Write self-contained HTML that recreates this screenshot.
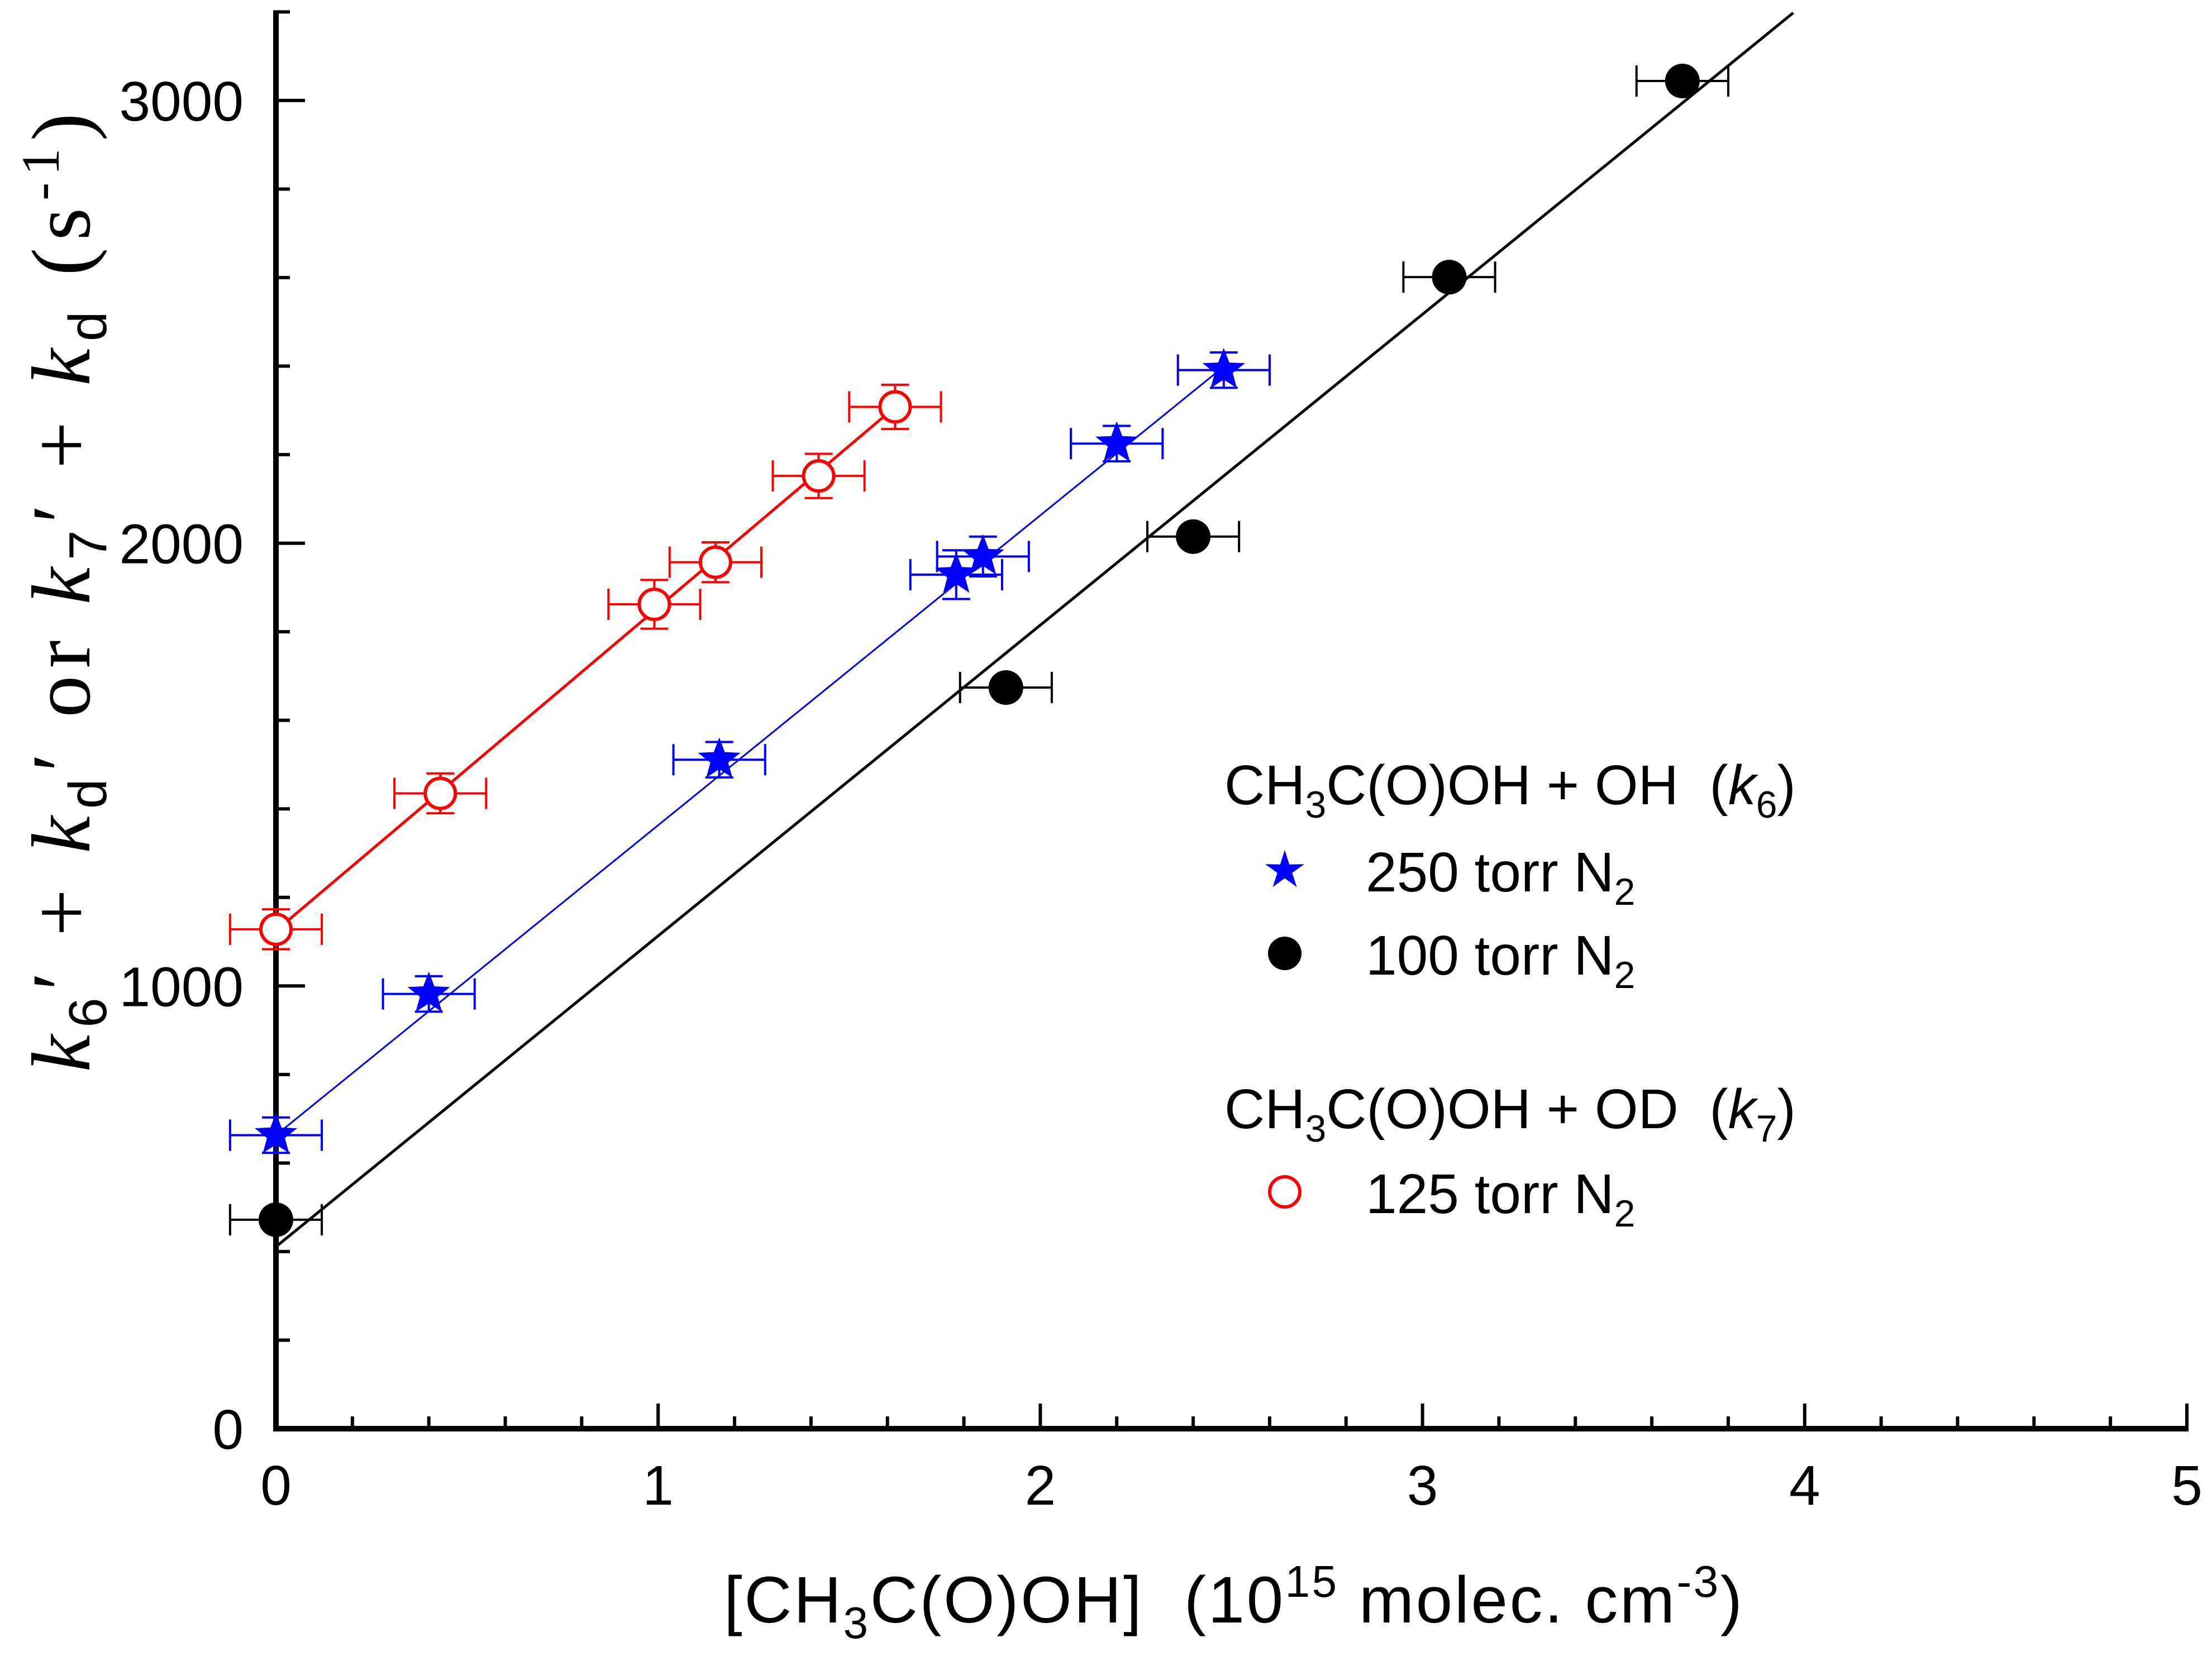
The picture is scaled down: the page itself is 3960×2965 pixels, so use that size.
<!DOCTYPE html>
<html><head><meta charset="utf-8"><style>
html,body{margin:0;padding:0;background:#fff;}
svg{display:block;font-family:"Liberation Sans",sans-serif;}
</style></head><body>
<svg id="chart" width="3960" height="2965" viewBox="0 0 3960 2965" xmlns="http://www.w3.org/2000/svg">
<g id="axes"></g>
<g id="series"></g>
<text x="1296" y="2905" font-size="118" textLength="1823" lengthAdjust="spacing" xml:space="preserve">[CH<tspan font-size="80" dy="28">3</tspan><tspan dy="-28">C(O)OH]  (10</tspan><tspan font-size="80" dy="-46">15</tspan><tspan dy="46"> molec. cm</tspan><tspan font-size="80" dy="-46">-3</tspan><tspan dy="46">)</tspan></text>
<text transform="translate(160,1061) rotate(-90)" font-size="150" text-anchor="middle" textLength="1717" lengthAdjust="spacing" font-family="Liberation Serif, serif" xml:space="preserve"><tspan font-style="italic">k</tspan><tspan font-size="96" dy="30" font-family="Liberation Sans, sans-serif">6</tspan><tspan dy="-30">′ + </tspan><tspan font-style="italic">k</tspan><tspan font-size="96" dy="30" font-family="Liberation Sans, sans-serif">d</tspan><tspan dy="-30">′ or </tspan><tspan font-style="italic">k</tspan><tspan font-size="96" dy="30" font-family="Liberation Sans, sans-serif">7</tspan><tspan dy="-30">′ + </tspan><tspan font-style="italic">k</tspan><tspan font-size="96" dy="30" font-family="Liberation Sans, sans-serif">d</tspan><tspan dy="-30"> (s</tspan><tspan font-size="96" dy="-55">-1</tspan><tspan dy="55">)</tspan></text>
<g font-size="100">
<text x="2192" y="1440" xml:space="preserve">CH<tspan font-size="68" dy="24">3</tspan><tspan dy="-24">C(O)OH + OH  (</tspan><tspan font-style="italic">k</tspan><tspan font-size="68" dy="24">6</tspan><tspan dy="-24">)</tspan></text>
<polygon fill="#0000ff" points="2300,1522 2308.2,1547.7 2335,1547.2 2313.2,1562.9 2321.6,1588.3 2300,1572.5 2278.4,1588.3 2286.8,1562.9 2265,1547.2 2291.8,1547.7"/>
<text x="2445" y="1596">250 torr N<tspan font-size="68" dy="24">2</tspan></text>
<circle cx="2300" cy="1707" r="30" fill="#000"/>
<text x="2445" y="1745">100 torr N<tspan font-size="68" dy="24">2</tspan></text>
<text x="2192" y="2020" xml:space="preserve">CH<tspan font-size="68" dy="24">3</tspan><tspan dy="-24">C(O)OH + OD  (</tspan><tspan font-style="italic">k</tspan><tspan font-size="68" dy="24">7</tspan><tspan dy="-24">)</tspan></text>
<circle cx="2300" cy="2134" r="27" fill="none" stroke="#ff0000" stroke-width="6"/>
<text x="2445" y="2172">125 torr N<tspan font-size="68" dy="24">2</tspan></text>
</g>
</svg>
<script>
const xTicks=[0,1,2,3,4,5];
const yTicks=[0,1000,2000,3000];
const blackX=[0,1.91,2.40,3.07,3.68];
const blackY=[472,1674,2015,2601,3044];
const blueX=[0,0.40,1.16,1.78,1.85,2.20,2.48];
const blueY=[663,982,1511,1929,1970,2225,2391];
const redX=[0,0.43,0.99,1.15,1.42,1.62];
const redY=[1128,1435,1862,1957,2152,2308];
const xErr=0.12;
const blueYErr=[40,40,40,55,45,40,40];
const redYErr=[45,45,55,45,50,50];
const blackFit=[411,702];
const blueFit=[663,700];
const redFit=[1125,730];
const blackFitXMax=3.97, blueFitXMax=2.48, redFitXMax=1.62;

const NS="http://www.w3.org/2000/svg";
const X0=494, XS=684.2, Y0=2558, YS=0.7927;
const sx=v=>X0+v*XS, sy=v=>Y0-v*YS;
function mk(tag,attrs,parent){const e=document.createElementNS(NS,tag);for(const k in attrs)e.setAttribute(k,attrs[k]);parent.appendChild(e);return e;}
const axes=document.getElementById('axes'), ser=document.getElementById('series');

let e=mk('line',{x1:X0,y1:Y0+5,x2:X0,y2:sy(3200)-3,stroke:'#000','stroke-width':10},axes);


e=mk('line',{x1:X0-5,y1:Y0,x2:sx(5)+3,y2:Y0,stroke:'#000','stroke-width':10},axes);


for(let v=0;v<=5.001;v+=0.2){const major=Math.abs(v-Math.round(v))<1e-6;
 const t=mk('line',{x1:sx(v),y1:Y0,x2:sx(v),y2:Y0-(major?45:22),stroke:'#000','stroke-width':6},axes);
 
 }
for(let v=0;v<=3200;v+=200){const major=v%1000===0;
 const t=mk('line',{x1:X0,y1:sy(v),x2:X0+(major?52:25),y2:sy(v),stroke:'#000','stroke-width':6},axes);
 
 }
xTicks.forEach(v=>{const t=mk('text',{x:sx(v),y:2694,'font-size':100,'text-anchor':'middle'},axes);t.textContent=v;
 
 });
yTicks.forEach(v=>{const t=mk('text',{x:436,y:sy(v)+36,'font-size':100,'text-anchor':'end'},axes);t.textContent=v;
 
 });

function fit(f,xmax,col,w,name){const l=mk('line',{x1:sx(0),y1:sy(f[0]),x2:sx(xmax),y2:sy(f[0]+f[1]*xmax),stroke:col,'stroke-width':w},ser);
 
 }
fit(blackFit,blackFitXMax,'#000',5,'fit-line-100-torr');
fit(blueFit,blueFitXMax,'#0000ff',3,'fit-line-250-torr');
fit(redFit,redFitXMax,'#ff0000',5,'fit-line-125-torr');

function errbars(xs,ys,yerr,col){xs.forEach((x,i)=>{const g=mk('g',{stroke:col,'stroke-width':4},ser);
 
 
 const cx=sx(x),cy=sy(ys[i]),x1=sx(x-xErr),x2=sx(x+xErr);
 mk('line',{x1:x1,y1:cy,x2:x2,y2:cy},g);mk('line',{x1:x1,y1:cy-28,x2:x1,y2:cy+28},g);mk('line',{x1:x2,y1:cy-28,x2:x2,y2:cy+28},g);
 if(yerr){const y1=sy(ys[i]+yerr[i]),y2=sy(ys[i]-yerr[i]);
  mk('line',{x1:cx,y1:y1,x2:cx,y2:y2},g);mk('line',{x1:cx-25,y1:y1,x2:cx+25,y2:y1},g);mk('line',{x1:cx-25,y1:y2,x2:cx+25,y2:y2},g);}});}
errbars(blackX,blackY,null,'#000');
errbars(blueX,blueY,blueYErr,'#0000ff');
errbars(redX,redY,redYErr,'#ff0000');

blackX.forEach((x,i)=>{const c=mk('circle',{cx:sx(x),cy:sy(blackY[i]),r:31,fill:'#000'},ser);
 
 });
function star(cx,cy,R){const r=R*0.42;let p=[];for(let k=0;k<10;k++){const a=-Math.PI/2+k*Math.PI/5,rr=k%2?r:R;p.push((cx+rr*Math.cos(a)).toFixed(1)+','+(cy+rr*Math.sin(a)).toFixed(1));}return p.join(' ');}
blueX.forEach((x,i)=>{const s=mk('polygon',{points:star(sx(x),sy(blueY[i]),40),fill:'#0000ff'},ser);
 
 });
redX.forEach((x,i)=>{const c=mk('circle',{cx:sx(x),cy:sy(redY[i]),r:27,fill:'#fff',stroke:'#ff0000','stroke-width':6},ser);
 
 });
</script>
</body></html>
